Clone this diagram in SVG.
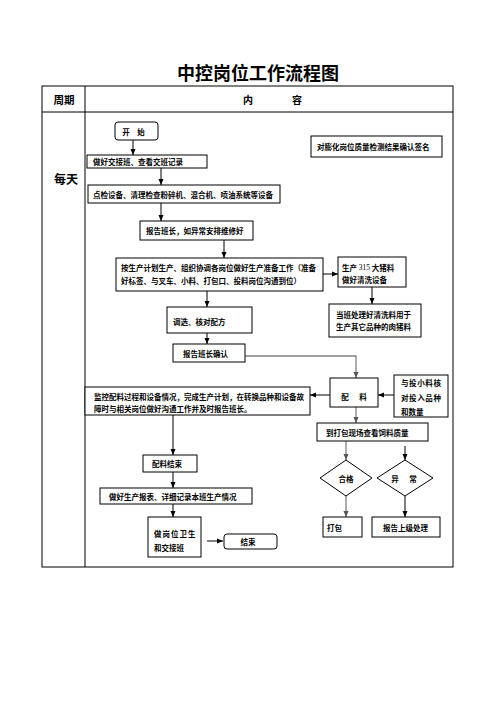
<svg xmlns="http://www.w3.org/2000/svg" width="496" height="702" viewBox="0 0 496 702">
<defs>
<style>
.b{fill:#fff;stroke:#000;stroke-width:1}
.t{font-family:"Noto Sans CJK SC","Noto Sans",sans-serif;font-size:7.5px;font-weight:700;fill:#000;dominant-baseline:central}
.c{text-anchor:middle}
.l{fill:none;stroke:#000;stroke-width:1}
.g{fill:none;stroke:#808080;stroke-width:1.3}
.tbl{fill:none;stroke:#000;stroke-width:1}
</style>
<marker id="a" viewBox="0 0 6 6" refX="6" refY="3" markerWidth="6" markerHeight="6" markerUnits="userSpaceOnUse" orient="auto"><path d="M0,0.5 L6,3 L0,5.5 Z" fill="#000"/></marker>
<marker id="ag" viewBox="0 0 6 6" refX="6" refY="3" markerWidth="6" markerHeight="6" markerUnits="userSpaceOnUse" orient="auto"><path d="M0,0.5 L6,3 L0,5.5 Z" fill="#555"/></marker>
</defs>
<rect width="496" height="702" fill="#fff"/>
<text x="258" y="72" class="t c" style="font-size:18px;font-weight:700">中控岗位工作流程图</text>
<g id="table">
<rect class="tbl" x="42" y="86" width="411" height="481"/>
<line class="tbl" x1="42" y1="112" x2="453" y2="112"/>
<line class="tbl" x1="85" y1="86" x2="85" y2="567"/>
<text x="64" y="99" class="t c" style="font-size:10.5px">周期</text>
<text x="248" y="99" class="t c" style="font-size:10px">内</text>
<text x="297" y="99" class="t c" style="font-size:10px">容</text>
<text x="66" y="178" class="t c" style="font-size:12px">每天</text>
</g>
<g id="connectors">
<line class="l" x1="133" y1="140" x2="133" y2="155" marker-end="url(#a)"/>
<line class="l" x1="161" y1="168" x2="161" y2="185" marker-end="url(#a)"/>
<line class="l" x1="161" y1="203" x2="161" y2="221" marker-end="url(#a)"/>
<line class="l" x1="224" y1="240" x2="224" y2="258" marker-end="url(#a)"/>
<line class="l" x1="323" y1="274" x2="338" y2="274" marker-end="url(#a)"/>
<line class="l" x1="372" y1="287" x2="372" y2="304" marker-end="url(#a)"/>
<line class="l" x1="207" y1="291" x2="207" y2="307" marker-end="url(#a)"/>
<line class="l" x1="207" y1="333" x2="207" y2="344" marker-end="url(#a)"/>
<polyline class="g" points="245,356 356,356 356,378" marker-end="url(#ag)"/>
<line class="l" x1="394" y1="395" x2="378" y2="395" marker-end="url(#a)"/>
<line class="l" x1="330" y1="395" x2="310" y2="395" marker-end="url(#a)"/>
<line class="g" x1="356" y1="407" x2="356" y2="423" marker-end="url(#ag)"/>
<line class="g" x1="346" y1="441" x2="346" y2="460" marker-end="url(#ag)"/>
<line class="l" x1="405" y1="446" x2="405" y2="460" marker-end="url(#a)"/>
<line class="g" x1="346" y1="496" x2="346" y2="517" marker-end="url(#ag)"/>
<line class="l" x1="405" y1="496" x2="405" y2="517" marker-end="url(#a)"/>
<line class="l" x1="173" y1="415" x2="173" y2="455" marker-end="url(#a)"/>
<line class="l" x1="173" y1="472" x2="173" y2="488" marker-end="url(#a)"/>
<line class="l" x1="173" y1="504" x2="173" y2="517" marker-end="url(#a)"/>
<line class="l" x1="207" y1="541" x2="223" y2="541" marker-end="url(#a)"/>
</g>
<g id="start"><rect class="b" x="115" y="122" width="43" height="18" rx="3"/><text x="126" y="131" class="t c">开</text><text x="141" y="131" class="t c">始</text></g>
<g id="n1"><rect class="b" x="87" y="155" width="120" height="13"/><text x="93" y="161.5" class="t">做好交接班、查看交班记录</text></g>
<g id="note"><rect class="b" x="311" y="136" width="131" height="21"/><text x="317" y="146.5" class="t">对膨化岗位质量检测结果确认签名</text></g>
<g id="n2"><rect class="b" x="88" y="185" width="192" height="18"/><text x="93" y="194" class="t">点检设备、清理检查粉碎机、混合机、喷油系统等设备</text></g>
<g id="n3"><rect class="b" x="140" y="221" width="113" height="19"/><text x="146" y="230.5" class="t">报告班长，如异常安排维修好</text></g>
<g id="n4"><rect class="b" x="116" y="258" width="207" height="33"/><text x="121" y="267.5" class="t">按生产计划生产、组织协调各岗位做好生产准备工作（准备</text><text x="121" y="280" class="t">好标签、与叉车、小料、打包口、投料岗位沟通到位）</text></g>
<g id="n5"><rect class="b" x="338" y="257" width="68" height="30"/><text x="342" y="267" class="t">生产 <tspan style="font-family:'Liberation Serif',serif;font-weight:400">315</tspan> 大猪料</text><text x="342" y="279.5" class="t">做好清洗设备</text></g>
<g id="n6"><rect class="b" x="329" y="304" width="92" height="33"/><text x="336" y="314" class="t">当班处理好清洗料用于</text><text x="336" y="326.5" class="t">生产其它品种的肉猪料</text></g>
<g id="n7"><rect class="b" x="167" y="307" width="85" height="26"/><text x="173" y="321.5" class="t">调选、核对配方</text></g>
<g id="n8"><rect class="b" x="173" y="344" width="72" height="18"/><text x="183" y="353" class="t">报告班长确认</text></g>
<g id="n9"><rect class="b" x="85" y="387" width="225" height="28"/><text x="94" y="396" class="t">监控配料过程和设备情况，完成生产计划，在转换品种和设备故</text><text x="94" y="408" class="t">障时与相关岗位做好沟通工作并及时报告班长。</text></g>
<g id="n10"><rect class="b" x="330" y="378" width="48" height="29"/><text x="345" y="396" class="t c">配</text><text x="363" y="396" class="t c">料</text></g>
<g id="n11"><rect class="b" x="394" y="375" width="54" height="42"/><text x="401" y="382.5" class="t" style="letter-spacing:0.6px">与投小料核</text><text x="401" y="397" class="t" style="letter-spacing:0.6px">对投入品种</text><text x="401" y="411" class="t">和数量</text></g>
<g id="n12"><rect class="b" x="317" y="423" width="111" height="18"/><text x="326" y="432" class="t">到打包现场查看饲料质量</text></g>
<g id="d1"><polygon class="b" points="346,460 372,478 346,496 320,478"/><text x="346" y="478" class="t c">合格</text></g>
<g id="d2"><polygon class="b" points="405,460 433,478 405,496 377,478"/><text x="395" y="478" class="t c">异</text><text x="413" y="478" class="t c">常</text></g>
<g id="n13"><rect class="b" x="323" y="517" width="39" height="20"/><text x="327" y="527" class="t">打包</text></g>
<g id="n14"><rect class="b" x="372" y="517" width="68" height="20"/><text x="383" y="527" class="t">报告上级处理</text></g>
<g id="n15"><rect class="b" x="143" y="455" width="54" height="17"/><text x="152" y="463.5" class="t">配料结束</text></g>
<g id="n16"><rect class="b" x="100" y="488" width="152" height="16"/><text x="109" y="496" class="t">做好生产报表、详细记录本班生产情况</text></g>
<g id="n17"><rect class="b" x="148" y="517" width="53" height="40"/><text x="154" y="533" class="t" style="letter-spacing:1px">做岗位卫生</text><text x="154" y="547" class="t">和交接班</text></g>
<g id="end"><rect class="b" x="224" y="534" width="53" height="15" rx="3"/><text x="248" y="541.5" class="t c">结束</text></g>
</svg>
